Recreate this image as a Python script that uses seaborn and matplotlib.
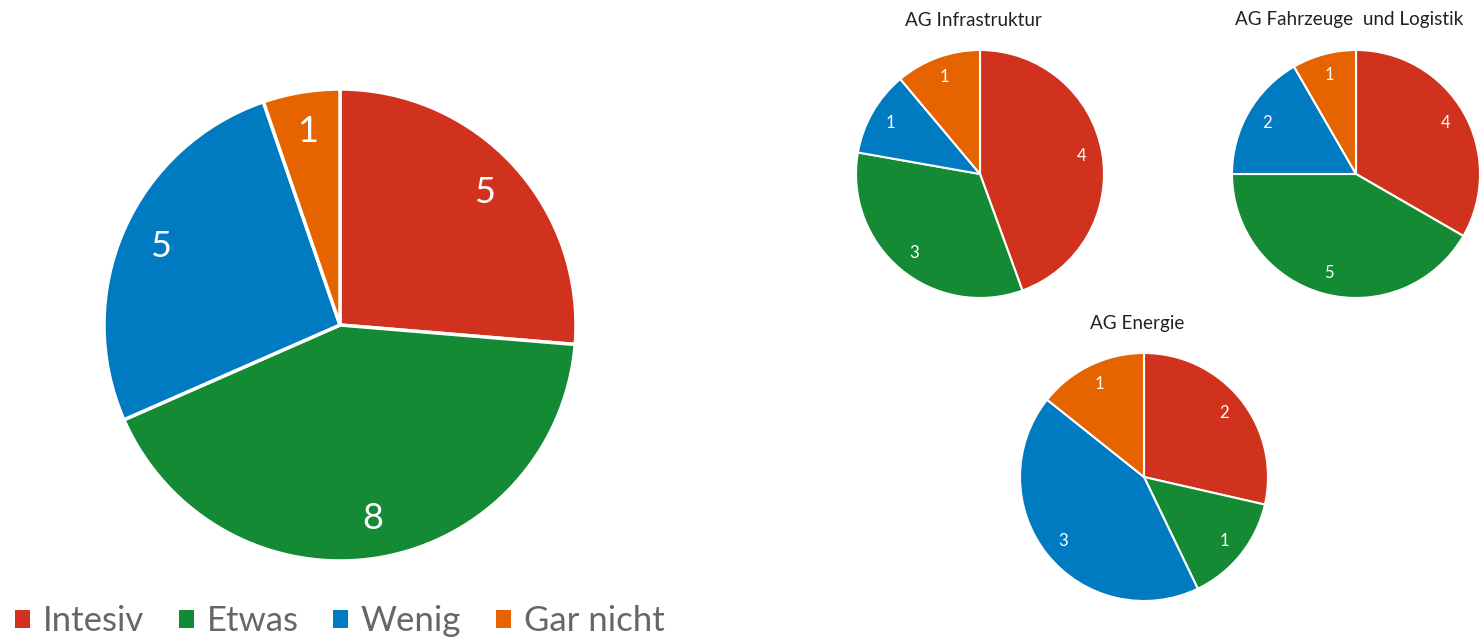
import matplotlib
matplotlib.use("Agg")
import matplotlib.pyplot as plt
import seaborn as sns
from matplotlib.patches import Patch

categories = ["Intesiv", "Etwas", "Wenig", "Gar nicht"]
colors = ["#D0321D", "#158A35", "#007AC0", "#E56400"]

total_values = [5, 8, 5, 1]

groups = ["AG Infrastruktur", "AG Fahrzeuge  und Logistik", "AG Energie"]
group_values = [
    [4, 3, 1, 1],
    [4, 5, 2, 1],
    [2, 1, 3, 1],
]

sns.set_theme(style="white")
plt.rcParams["font.family"] = ["Lato", "DejaVu Sans"]

W, H = 1479, 639
fig = plt.figure(figsize=(W / 100, H / 100), dpi=100)


def px_axes(cx, cy, r):
    # axes box in pixel coords (from top-left), pie fills the box
    return fig.add_axes([(cx - r) / W, 1 - (cy + r) / H, 2 * r / W, 2 * r / H])


def draw_pie(ax, values, fontsize, lw, dist):
    ax.pie(values, colors=colors, startangle=90, counterclock=False,
           labels=[str(v) for v in values], labeldistance=dist,
           radius=1, wedgeprops=dict(edgecolor="white", linewidth=lw),
           textprops=dict(color="white", fontsize=fontsize, ha="center", va="center"))
    ax.set_xlim(-1.0, 1.0)
    ax.set_ylim(-1.0, 1.0)
    ax.set_aspect("equal")
    ax.axis("off")


# main pie
ax = px_axes(340, 325, 236)
draw_pie(ax, total_values, 26, 2.5, 0.83)

# small pies
centers = [(980, 174), (1356, 174), (1144, 477)]
for (cx, cy), name, vals in zip(centers, groups, group_values):
    a = px_axes(cx, cy, 124)
    draw_pie(a, vals, 12, 1.5, 0.83)
    fig.text((cx - 7) / W, 1 - (cy - 154) / H, name, ha="center", va="center",
             fontsize=13.6, color="#222222")

handles = [Patch(facecolor=c, edgecolor="none") for c in colors]
fig.legend(handles, categories, loc="center left", bbox_to_anchor=(0.003, 1 - 621 / H),
           ncol=4, frameon=False, fontsize=25, labelcolor="#666666",
           handlelength=0.43, handleheight=0.43, handletextpad=0.37, columnspacing=1.0,
           borderaxespad=0, borderpad=0.3)

fig.savefig("out.png", dpi=100)
